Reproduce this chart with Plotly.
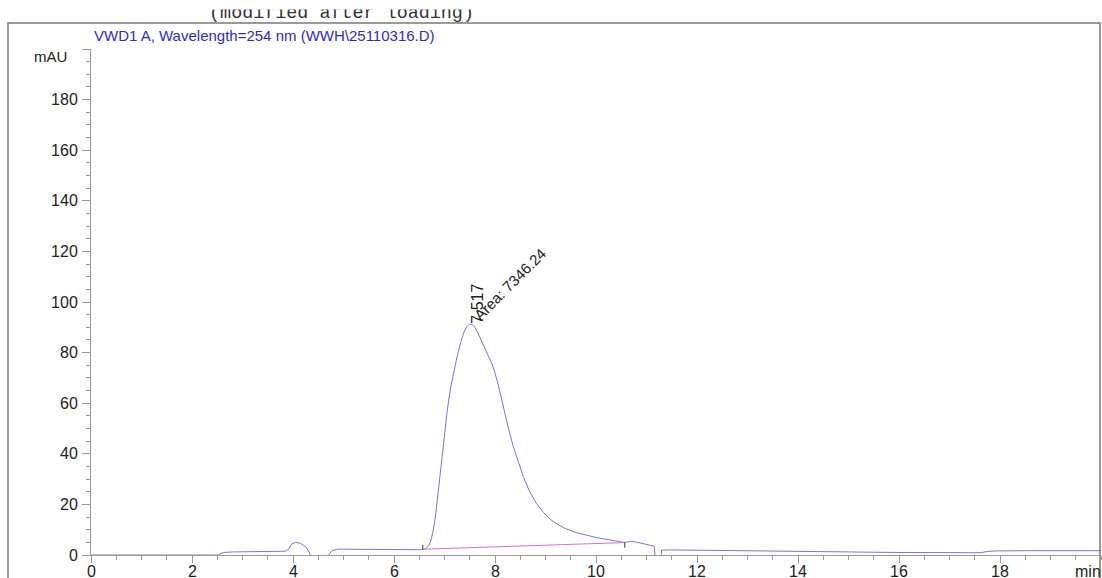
import plotly.graph_objects as go

# ---- data ----
time_min = [0, 2.54, 2.56, 2.62, 2.8, 3.2, 3.6, 3.86, 3.92, 3.97, 4.05, 4.15, 4.25, 4.32, 4.36, 4.45,
            4.6, 4.68, 4.72, 4.78, 4.9, 5.2, 5.6, 6.0, 6.4, 6.55,
            6.62, 6.68, 6.72, 6.77, 6.82, 6.88, 6.94, 7.0, 7.06, 7.12, 7.18, 7.25, 7.32, 7.38, 7.44,
            7.50, 7.55, 7.60, 7.66, 7.72, 7.80, 7.87, 7.94, 8.0, 8.08, 8.16, 8.26, 8.36, 8.46, 8.56,
            8.68, 8.82, 8.96, 9.1, 9.25, 9.4, 9.6, 9.8, 10.0, 10.2, 10.4, 10.55, 10.62, 10.7, 10.8,
            10.95, 11.1, 11.15, 11.18, 11.28, 11.3, 11.5, 12.0, 12.8, 13.2, 14.0, 14.5, 15.0, 15.5,
            16.0, 16.5, 17.0, 17.5, 17.62, 17.75, 17.9, 18.5, 19.0, 19.5, 20.0]
signal_mau = [0, 0, 0.6, 1.0, 1.2, 1.3, 1.4, 1.5, 2.5, 4.3, 5.0, 4.6, 3.3, 1.2, -1, -3,
              -3, -1, 0.5, 1.8, 2.3, 2.3, 2.2, 2.1, 2.1, 2.1,
              2.5, 3.5, 5, 9, 15, 26, 37, 48, 58, 66, 72.5, 78.5, 84, 87.8, 90.2,
              91.3, 91.1, 90, 87.8, 85, 81.5, 78.6, 75.5, 72, 66, 59, 50.5, 43, 36.5, 31,
              25.3, 20.4, 16.8, 14, 12, 10.4, 8.9, 7.8, 6.9, 6.2, 5.5, 5.0, 5.1, 5.4, 5.1,
              4.5, 3.8, 3.5, -2, -2, 1.9, 2.0, 1.9, 1.7, 1.4, 1.3, 1.2, 1.1, 1.1,
              1.0, 0.9, 0.8, 0.8, 0.9, 1.4, 1.6, 1.7, 1.6, 1.7, 1.7]

baseline_time = [6.60, 10.56]
baseline_mau = [2.3, 4.9]

peak_mark_time = [6.57, 10.57]
peak_mark_lo = [2.0, 2.9]
peak_mark_hi = [4.0, 4.9]

peak_rt = 7.517
peak_area = 7346.24
peak_height = 91.3

x_ticks = [0, 2, 4, 6, 8, 10, 12, 14, 16, 18, 20]
x_ticktext = ["0", "2", "4", "6", "8", "10", "12", "14", "16", "18", ""]
y_ticks = [0, 20, 40, 60, 80, 100, 120, 140, 160, 180, 200]
y_ticktext = ["0", "20", "40", "60", "80", "100", "120", "140", "160", "180", ""]

W, H = 1102, 578
FONT = "Liberation Sans, Arial, sans-serif"

fig = go.Figure()

fig.add_trace(go.Scatter(x=time_min, y=signal_mau, mode="lines",
                         line=dict(color="#7676dc", width=1), hoverinfo="skip"))
fig.add_trace(go.Scatter(x=baseline_time, y=baseline_mau, mode="lines",
                         line=dict(color="#d870d8", width=1), hoverinfo="skip"))
mx, my = [], []
for t, lo, hi in zip(peak_mark_time, peak_mark_lo, peak_mark_hi):
    mx += [t, t, None]
    my += [lo, hi, None]
fig.add_trace(go.Scatter(x=mx, y=my, mode="lines",
                         line=dict(color="#333333", width=1), hoverinfo="skip"))

# header text clipped like the reference
fig.add_trace(go.Scatter(x=[341.5], y=[-13.6], mode="text", text=["(modified after loading)"],
                         textposition="middle center", cliponaxis=True,
                         textfont=dict(family="Liberation Mono, Courier New, monospace", size=18.4, color="#333333"),
                         xaxis="x2", yaxis="y2", hoverinfo="skip"))

axis_common = dict(showgrid=False, zeroline=False, showline=True, linecolor="#9a9a9a", linewidth=1,
                   ticks="outside", tickcolor="#9a9a9a", tickwidth=1, automargin=False,
                   tickfont=dict(family=FONT, size=16, color="#222222"), layer="below traces")

annotations = [
    dict(text="VWD1 A, Wavelength=254 nm (WWH\\25110316.D)", xref="paper", yref="paper",
         x=92 / W, y=(H - 36) / H, xanchor="left", yanchor="middle", showarrow=False,
         font=dict(family=FONT, size=15, color="#2b2bd6")),
    dict(text="mAU", xref="paper", yref="paper", x=50 / W, y=(H - 56) / H,
         xanchor="center", yanchor="middle", showarrow=False,
         font=dict(family=FONT, size=15, color="#222222")),
    dict(text="min", xref="paper", yref="paper", x=1103 / W, y=(H - 571) / H,
         xanchor="right", yanchor="middle", showarrow=False,
         font=dict(family=FONT, size=16, color="#222222")),
    dict(text=f"{peak_rt:.3f}", x=peak_rt + 0.13, y=peak_height - 0.6, xref="x", yref="y",
         textangle=-90, xanchor="center", yanchor="bottom", showarrow=False,
         font=dict(family=FONT, size=16, color="#222222")),
    dict(text=f"Area: {peak_area:.2f}", x=peak_rt - 0.06, y=peak_height - 1.0, xref="x", yref="y",
         textangle=-45, xanchor="left", yanchor="bottom", showarrow=False,
         font=dict(family=FONT, size=15, color="#222222")),
]
# x tick labels (placed a little higher than plotly's default)
for tv, tt in zip(x_ticks, x_ticktext):
    if tt:
        annotations.append(dict(text=tt, x=tv, xref="x", y=(H - 571) / H, yref="paper",
                                xanchor="center", yanchor="middle", showarrow=False,
                                font=dict(family=FONT, size=16, color="#222222")))

fig.update_layout(
    width=W, height=H,
    margin=dict(l=0, r=0, t=0, b=0, autoexpand=False),
    paper_bgcolor="white", plot_bgcolor="white",
    showlegend=False,
    xaxis=dict(domain=[91 / W, 1101 / W], range=[0, 20], tickmode="array", tickvals=x_ticks,
               ticktext=x_ticktext, ticklen=7, showticklabels=False,
               minor=dict(dtick=0.5, ticklen=4, ticks="outside", tickcolor="#9a9a9a"),
               anchor="y", **axis_common),
    yaxis=dict(domain=[23 / H, 529 / H], range=[0, 200], tickmode="array", tickvals=y_ticks,
               ticktext=y_ticktext, ticklen=8, ticklabelstandoff=1,
               minor=dict(dtick=5, ticklen=4, ticks="outside", tickcolor="#9a9a9a"),
               anchor="x", **axis_common),
    xaxis2=dict(domain=[0, 1], range=[0, W], visible=False, anchor="y2", automargin=False),
    yaxis2=dict(domain=[(H - 23) / H, (H - 9.5) / H], range=[-23, -9.5], visible=False, anchor="x2",
                automargin=False),
    shapes=[dict(type="rect", xref="paper", yref="paper", x0=8 / W, x1=1100 / W, y0=-0.1,
                 y1=(H - 23) / H, line=dict(color="#7a7a7a", width=1.5), fillcolor="rgba(0,0,0,0)",
                 layer="below")],
    annotations=annotations,
)

fig.write_html("out.html")
